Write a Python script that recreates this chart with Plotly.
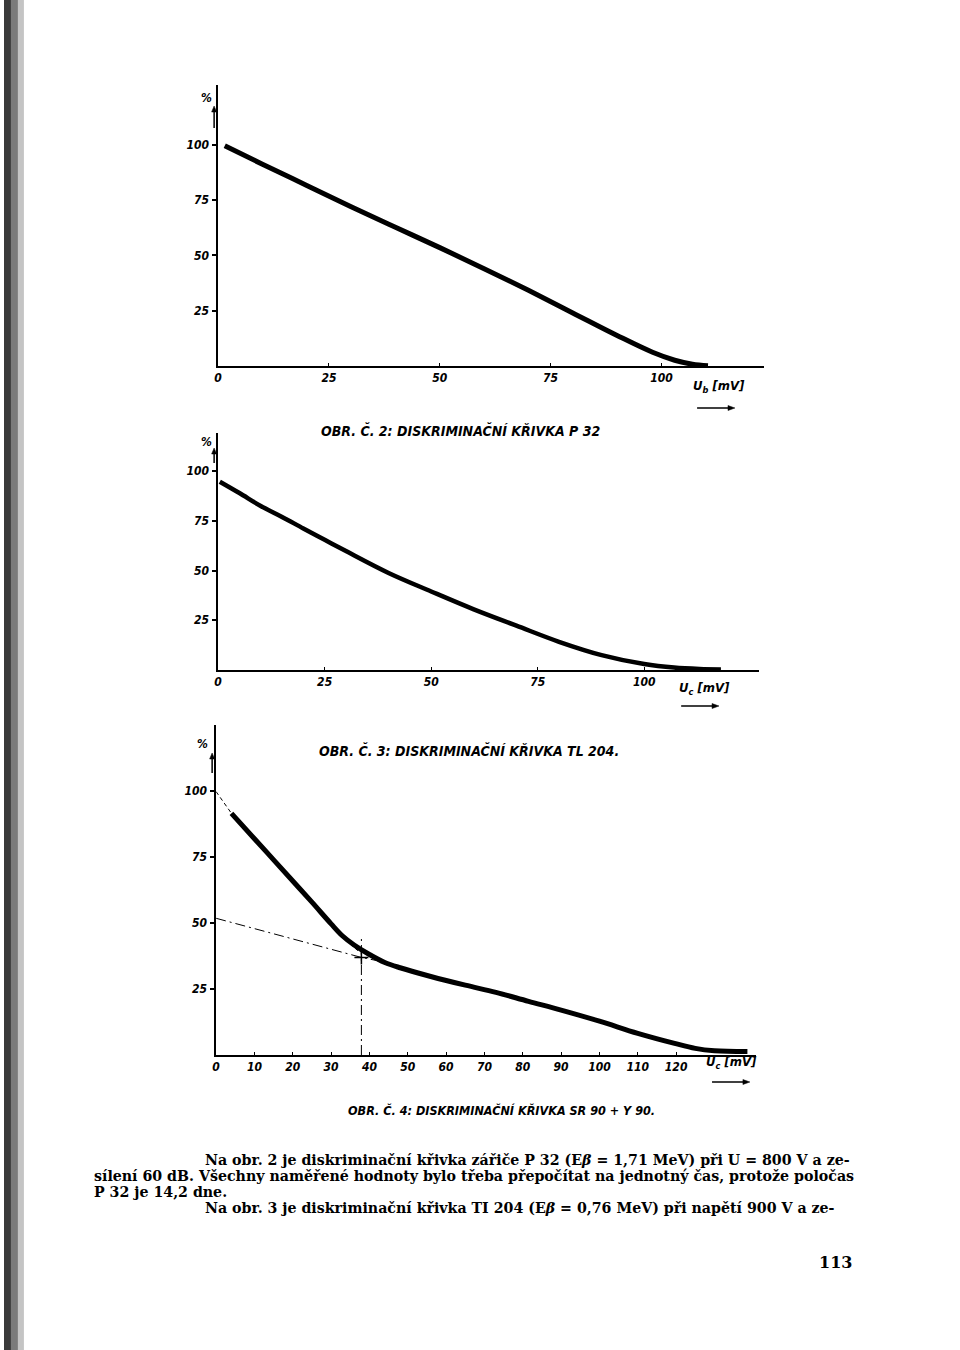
import plotly.graph_objects as go

W, H = 960, 1350

# ---------------- data ----------------
# Obr. č. 2 – diskriminační křivka P 32  (U_b [mV] vs %)
p32_u = [1.5, 10, 20, 30, 40, 50, 60, 70, 80, 90, 98, 103, 107, 110.5]
p32_pct = [99.5, 91.2, 81.6, 72.0, 62.7, 53.5, 44.0, 34.2, 24.0, 13.8, 6.2, 2.6, 0.8, 0.1]

# Obr. č. 3 – diskriminační křivka Tl 204 (U_c [mV] vs %)
tl204_u = [0.4, 5, 10, 15, 20, 25, 30, 40, 50, 60, 70, 80, 90, 100, 107, 113, 118]
tl204_pct = [94.7, 89.0, 82.5, 77.0, 71.2, 65.5, 59.8, 48.8, 39.5, 30.5, 22.3, 14.2, 7.5, 3.0, 1.2, 0.5, 0.3]

# Obr. č. 4 – diskriminační křivka Sr 90 + Y 90 (U_c [mV] vs %)
sr90_u = [4, 10, 15, 20, 25, 30, 33, 36, 40, 44, 48, 56, 65, 73, 81.5, 90, 100, 110, 119.6, 125, 130, 138.6]
sr90_pct = [91.4, 81.8, 73.8, 65.8, 57.8, 49.6, 45.0, 41.6, 38.0, 35.0, 33.0, 29.7, 26.4, 23.7, 20.3, 17.0, 12.8, 8.2, 4.4, 2.5, 1.6, 1.3]
# construction lines of Obr. č. 4
steep_ext_u = [0, 4]
steep_ext_pct = [99.6, 91.4]
knee_ext_u = [33.5, 37.6]
knee_ext_pct = [44.0, 38.6]
flat_ext_u = [0, 37.9, 43.3]
flat_ext_pct = [51.7, 36.9, 35.3]
vert_u = [37.9, 37.9]
vert_pct = [0, 44.7]
cross_u = [37.9]
cross_pct = [36.9]

ticks_a = [0, 25, 50, 75, 100]
ticks_c = [0, 10, 20, 30, 40, 50, 60, 70, 80, 90, 100, 110, 120]
ticks_y = [25, 50, 75, 100]

captions = [
    "OBR. Č. 2: DISKRIMINAČNÍ KŘIVKA P 32",
    "OBR. Č. 3: DISKRIMINAČNÍ KŘIVKA TL 204.",
    "OBR. Č. 4: DISKRIMINAČNÍ KŘIVKA SR 90 + Y 90.",
]
body_lines = [
    "Na obr. 2 je diskriminační křivka zářiče P 32 (E<i>β</i> = 1,71 MeV) při U = 800 V a ze-",
    "sílení 60 dB. Všechny naměřené hodnoty bylo třeba přepočítat na jednotný čas, protože poločas",
    "P 32 je 14,2 dne.",
    "Na obr. 3 je diskriminační křivka TI 204 (E<i>β</i> = 0,76 MeV) při napětí 900 V a ze-",
]
page_no = "113"

# ---------------- helpers ----------------
def px(x):
    return x / W

def py(y):
    return 1 - y / H

HAND = "Liberation Sans Narrow, DejaVu Sans Condensed, Arial Narrow, sans-serif"
tickfont = dict(family=HAND, size=12, color="black", style="italic", weight="bold")

fig = go.Figure()

def curve(x, y, ax, width=5, dash="solid", shape="spline"):
    fig.add_trace(go.Scatter(
        x=x, y=y, mode="lines", xaxis=ax[0], yaxis=ax[1],
        line=dict(color="black", width=width, dash=dash, shape=shape, smoothing=1.0),
        showlegend=False, hoverinfo="skip"))

curve(p32_u, p32_pct, ("x", "y"), width=5)
curve(tl204_u, tl204_pct, ("x2", "y2"), width=4.5)
curve(sr90_u, sr90_pct, ("x3", "y3"), width=5)
curve(steep_ext_u, steep_ext_pct, ("x3", "y3"), width=1, dash="4px,3px", shape="linear")
curve(knee_ext_u, knee_ext_pct, ("x3", "y3"), width=1, dash="4px,3px", shape="linear")
curve(flat_ext_u, flat_ext_pct, ("x3", "y3"), width=1, dash="10px,4px,2px,4px", shape="linear")
curve(vert_u, vert_pct, ("x3", "y3"), width=1, dash="10px,4px,2px,4px", shape="linear")
fig.add_trace(go.Scatter(x=cross_u, y=cross_pct, mode="markers", xaxis="x3", yaxis="y3",
                         marker=dict(symbol="cross-thin", size=10, line=dict(color="black", width=1.5)),
                         showlegend=False, hoverinfo="skip"))

def xax(dom, rng, anchor, tv):
    return dict(domain=[px(dom[0]), px(dom[1])], range=rng, anchor=anchor,
                showline=True, linecolor="black", linewidth=1.5, mirror=False,
                showgrid=False, zeroline=False, ticks="inside", ticklen=3, tickwidth=1,
                tickcolor="black", tickvals=tv, ticktext=[str(v) for v in tv],
                tickfont=tickfont, fixedrange=True)

def yax(dom, rng, anchor):
    return dict(domain=[py(dom[1]), py(dom[0])], range=rng, anchor=anchor,
                showline=True, linecolor="black", linewidth=1.5,
                showgrid=False, zeroline=False, ticks="outside", ticklen=4, tickwidth=1.5,
                tickcolor="black", tickvals=ticks_y, ticktext=[str(v) for v in ticks_y],
                tickfont=tickfont, ticklabelstandoff=1, fixedrange=True)

fig.update_layout(
    width=W, height=H, margin=dict(l=0, r=0, t=0, b=0),
    paper_bgcolor="white", plot_bgcolor="rgba(0,0,0,0)", showlegend=False,
    xaxis=xax((215, 763), [0, 123.1], "y", ticks_a),
    yaxis=yax((85, 366), [0, 127], "x"),
    xaxis2=xax((215, 758), [0, 126.9], "y2", ticks_a),
    yaxis2=yax((433, 670), [0, 119.2], "x2"),
    xaxis3=xax((213, 755), [0, 140.8], "y3", ticks_c),
    yaxis3=yax((725, 1055), [0, 124.8], "x3"),
)

ann = []
def text(x, y, s, size=11, family=HAND, style="italic", weight="bold", xanchor="center"):
    ann.append(dict(x=px(x), y=py(y), xref="paper", yref="paper", text=s, showarrow=False,
                    xanchor=xanchor, yanchor="middle",
                    font=dict(family=family, size=size, color="black", style=style, weight=weight)))

shapes = [
    # binding shadow at left edge of the scanned page
    dict(type="rect", xref="paper", yref="paper", x0=0, x1=px(7), y0=0, y1=1, fillcolor="#3a3a3a", line=dict(width=0), layer="below"),
    dict(type="rect", xref="paper", yref="paper", x0=px(7), x1=px(14), y0=0, y1=1, fillcolor="#7a7a7a", line=dict(width=0), layer="below"),
    dict(type="rect", xref="paper", yref="paper", x0=px(14), x1=px(20), y0=0, y1=1, fillcolor="#c4c4c4", line=dict(width=0), layer="below"),
]

def up_arrow(x, y_top, y_bot):
    shapes.append(dict(type="line", xref="paper", yref="paper", x0=px(x), x1=px(x),
                       y0=py(y_bot), y1=py(y_top + 4), line=dict(color="black", width=1.5)))
    shapes.append(dict(type="path", xref="paper", yref="paper",
                       path=f"M {px(x)} {py(y_top)} L {px(x - 2.5)} {py(y_top + 6)} L {px(x + 2.5)} {py(y_top + 6)} Z",
                       fillcolor="black", line=dict(color="black", width=0.5)))

def right_arrow(x_left, x_right, y):
    shapes.append(dict(type="line", xref="paper", yref="paper", x0=px(x_left), x1=px(x_right - 4),
                       y0=py(y), y1=py(y), line=dict(color="black", width=1.5)))
    shapes.append(dict(type="path", xref="paper", yref="paper",
                       path=f"M {px(x_right)} {py(y)} L {px(x_right - 7)} {py(y - 2.5)} L {px(x_right - 7)} {py(y + 2.5)} Z",
                       fillcolor="black", line=dict(color="black", width=0.5)))

# captions
text(458, 430, captions[0], size=14)
text(467, 750, captions[1], size=14)
text(500, 1110, captions[2], size=12.5)

# axis labels
for (xl, yl, s) in [(718, 387, "U<sub>b</sub> [mV]"), (703, 688, "U<sub>c</sub> [mV]"), (731, 1062, "U<sub>c</sub> [mV]")]:
    text(xl, yl, s, size=13)
for (xp, yp) in [(203, 98), (203, 442), (199, 744)]:
    text(xp, yp, "%", size=12)
up_arrow(211, 106, 128)
up_arrow(211, 448, 463)
up_arrow(209, 753, 773)
right_arrow(696, 734, 408)
right_arrow(680, 718, 706)
right_arrow(711, 749, 1082)

# body text
SERIF = "DejaVu Serif, Liberation Serif, serif"
body_pos = [(200, 1160), (88, 1176), (88, 1192), (200, 1208)]
for (bx, by), s in zip(body_pos, body_lines):
    text(bx, by, s, size=14.2, family=SERIF, style="normal", weight="bold", xanchor="left")
text(835, 1262, page_no, size=16, family=SERIF, style="normal", weight="bold")

fig.update_layout(annotations=ann, shapes=shapes)

fig.write_html("out.html")
